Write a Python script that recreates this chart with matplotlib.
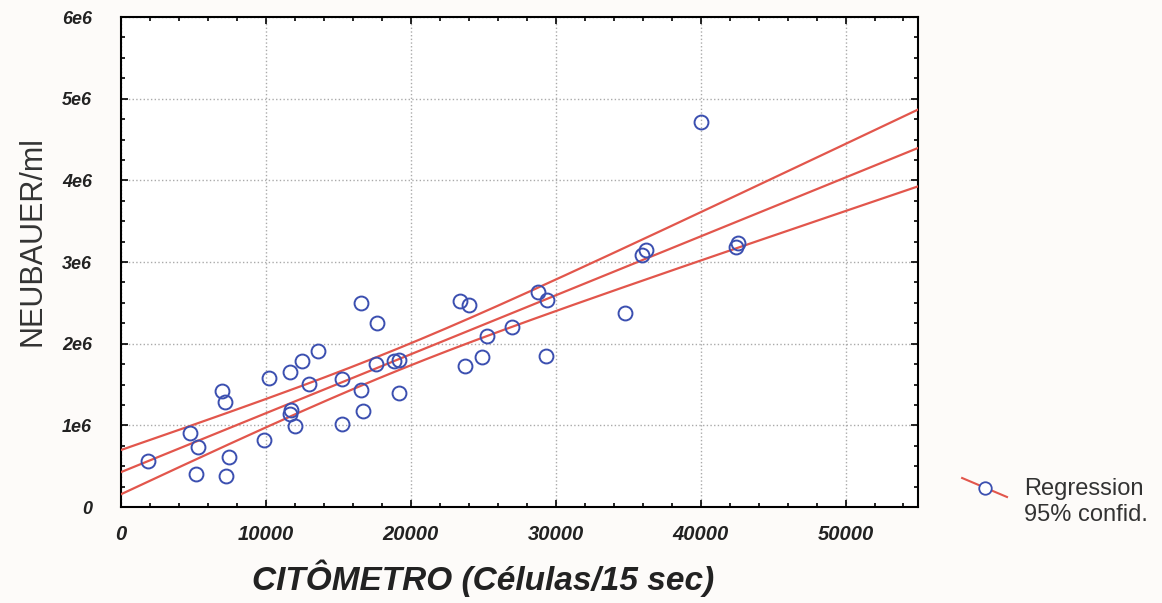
import numpy as np
from matplotlib import pyplot as plt
from matplotlib.ticker import MultipleLocator, FuncFormatter

# cytometer counts (cells / 15 s) and Neubauer chamber counts (cells / ml)
citometro = [1900, 4790, 5310, 5200, 6960, 7200, 7470, 7220, 9850, 10190,
             11680, 11730, 11680, 12010, 12460, 12970, 13610, 15280, 15280,
             16540, 16540, 16720, 17680, 17570, 18830, 19180, 19180, 23420,
             23990, 23760, 24900, 25240, 27010, 28750, 29420, 29330, 34800,
             35950, 36220, 40000, 42470, 42610]
neubauer = [0.56e6, 0.91e6, 0.73e6, 0.40e6, 1.42e6, 1.28e6, 0.61e6, 0.38e6,
            0.82e6, 1.58e6, 1.65e6, 1.19e6, 1.14e6, 0.99e6, 1.79e6, 1.51e6,
            1.91e6, 1.57e6, 1.02e6, 2.50e6, 1.43e6, 1.17e6, 2.25e6, 1.75e6,
            1.79e6, 1.80e6, 1.39e6, 2.52e6, 2.47e6, 1.73e6, 1.84e6, 2.09e6,
            2.20e6, 2.63e6, 2.54e6, 1.85e6, 2.37e6, 3.09e6, 3.15e6, 4.72e6,
            3.18e6, 3.23e6]

x = np.array(citometro, dtype=float)
y = np.array(neubauer, dtype=float)

# least squares fit and 95% confidence band of the mean
n = len(x)
b, a = np.polyfit(x, y, 1)
resid = y - (a + b * x)
s = np.sqrt(np.sum(resid ** 2) / (n - 2))
sxx = np.sum((x - x.mean()) ** 2)
t95 = 2.021  # t(0.975, 40 df)

xs = np.linspace(0, 55000, 200)
fit = a + b * xs
half = t95 * s * np.sqrt(1.0 / n + (xs - x.mean()) ** 2 / sxx)

red = '#e2564c'
blue = '#3b4fb0'
font = 'Liberation Sans'

fig = plt.figure(figsize=(11.62, 6.03), dpi=100, facecolor='#fdfbf9')
ax = fig.add_axes([0.1041, 0.1592, 0.6859, 0.8126])
ax.set_facecolor('white')

ax.plot(xs, fit, color=red, lw=1.6, zorder=3)
ax.plot(xs, fit + half, color=red, lw=1.6, zorder=3)
ax.plot(xs, fit - half, color=red, lw=1.6, zorder=3)
ax.plot(x, y, 'o', mfc='none', mec=blue, ms=10, mew=1.4, zorder=4)

ax.set_xlim(0, 55000)
ax.set_ylim(0, 6e6)
ax.xaxis.set_major_locator(MultipleLocator(10000))
ax.xaxis.set_minor_locator(MultipleLocator(2000))
ax.yaxis.set_major_locator(MultipleLocator(1e6))
ax.yaxis.set_minor_locator(MultipleLocator(2.5e5))
ax.yaxis.set_major_formatter(FuncFormatter(lambda v, p: '0' if v == 0 else '%de6' % round(v / 1e6)))
ax.xaxis.set_major_formatter(FuncFormatter(lambda v, p: '%d' % v))

ax.tick_params(which='both', direction='in', top=True, right=True, width=1.2)
ax.tick_params(which='major', length=5)
ax.tick_params(which='minor', length=3)
ax.tick_params(axis='x', which='major', pad=13)
ax.tick_params(axis='y', which='major', pad=21)
for lab in ax.get_xticklabels():
    lab.set(family=font, weight='bold', style='italic', size=14.5, color='#222222')
for lab in ax.get_yticklabels():
    lab.set(family=font, weight='bold', style='italic', size=13, color='#222222')
for sp in ax.spines.values():
    sp.set_linewidth(1.5)

ax.grid(True, which='major', color='#aaaaaa', ls=':', lw=1)

ax.set_xlabel('CITÔMETRO (Células/15 sec)', family=font, fontsize=24,
              fontweight='bold', fontstyle='italic', color='#222222')
ax.xaxis.set_label_coords(0.455, -0.108)
ax.set_ylabel('NEUBAUER/ml', family=font, fontsize=22, color='#333333')
ax.yaxis.set_label_coords(-0.092, 0.543)

# legend outside the axes on the right
fig.lines.append(plt.Line2D([0.828, 0.8666], [0.2073, 0.1758],
                            transform=fig.transFigure, color=red, lw=1.5))
fig.lines.append(plt.Line2D([0.8477], [0.1907], transform=fig.transFigure,
                            marker='o', mfc='white', mec=blue, ms=9, mew=1.3))
fig.text(0.881, 0.189, 'Regression', family=font, fontsize=17,
         va='center', color='#333333')
fig.text(0.881, 0.146, '95% confid.', family=font, fontsize=17,
         va='center', color='#333333')

fig.savefig('out.png', dpi=100, facecolor=fig.get_facecolor())
